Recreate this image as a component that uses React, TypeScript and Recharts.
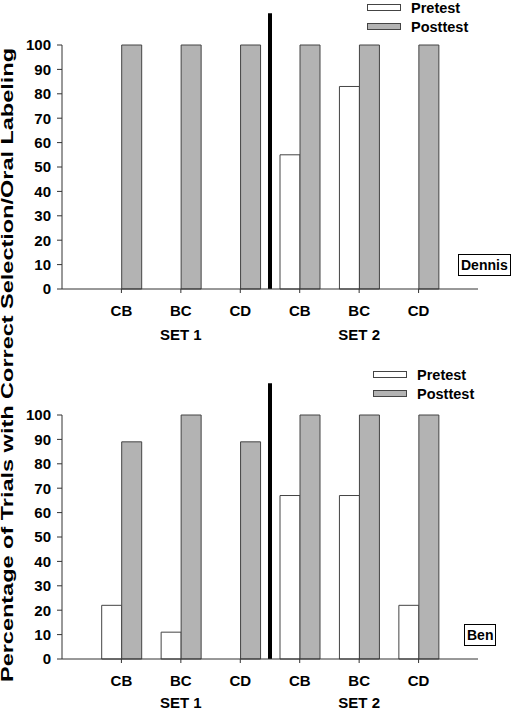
import { BarChart, Bar, XAxis, YAxis, Legend, ReferenceLine } from 'recharts';

const categoryKeys = ['S1-CB', 'S1-BC', 'S1-CD', 'S2-CB', 'S2-BC', 'S2-CD'];
const pairLabels = ['CB', 'BC', 'CD', 'CB', 'BC', 'CD'];
const setLabels = ['', 'SET 1', '', '', 'SET 2', ''];
const seriesNames = ['Pretest', 'Posttest'];
const yTicks = [0, 10, 20, 30, 40, 50, 60, 70, 80, 90, 100];

const dennisPretest = [0, 0, 0, 55, 83, 0];
const dennisPosttest = [100, 100, 100, 100, 100, 100];
const benPretest = [22, 11, 0, 67, 67, 22];
const benPosttest = [89, 100, 89, 100, 100, 100];

const FONT = '"Liberation Sans", Arial, Helvetica, sans-serif';
const AXIS = '#333';
const POST_FILL = '#b3b3b3';

function buildRows(pre: number[], post: number[]) {
  return categoryKeys.map((key, i) => ({ key, pretest: pre[i], posttest: post[i] }));
}

function CategoryTick(props: any) {
  const { x, y, index, setDy } = props;
  return (
    <g>
      <text x={x} y={y} dy={23} textAnchor="middle" fontFamily={FONT} fontWeight="bold" fontSize={15} fill="#000">
        {pairLabels[index]}
      </text>
      {setLabels[index] && (
        <text x={x} y={y} dy={setDy} textAnchor="middle" fontFamily={FONT} fontWeight="bold" fontSize={15} fill="#000">
          {setLabels[index]}
        </text>
      )}
    </g>
  );
}

function LegendBox() {
  // fixed order: Pretest above Posttest
  return (
    <div style={{ fontFamily: FONT, fontWeight: 'bold', fontSize: 14.5 }}>
      {seriesNames.map((name) => (
        <div key={name} style={{ display: 'flex', alignItems: 'center', height: 19 }}>
          <span
            style={{
              display: 'inline-block',
              width: 32,
              height: 5,
              background: name === 'Pretest' ? '#fff' : POST_FILL,
              border: '1px solid #444',
              marginRight: 10,
            }}
          />
          <span>{name}</span>
        </div>
      ))}
    </div>
  );
}

function Panel({ pre, post, name, top, marginTop, marginBottom, legendTop, legendLeft, nameBox, setDy }: any) {
  const rows = buildRows(pre, post);
  return (
    <div style={{ position: 'absolute', left: 0, top, width: 514, height: 350 }}>
      <BarChart
        width={514}
        height={350}
        data={rows}
        margin={{ top: marginTop, right: 36, left: 0, bottom: marginBottom }}
        barCategoryGap={10}
        barGap={0}
      >
        <XAxis
          dataKey="key"
          padding={{ left: 29.7, right: 29.7 }}
          height={50}
          tickSize={4}
          tickMargin={0}
          tick={<CategoryTick setDy={setDy} />}
          interval={0}
          stroke={AXIS}
          axisLine={{ stroke: AXIS }}
          tickLine={{ stroke: AXIS }}
        />
        <YAxis
          width={62}
          domain={[0, 100]}
          ticks={yTicks}
          interval={0}
          tickSize={5}
          tickMargin={6}
          stroke={AXIS}
          tick={{ fill: '#000', fontFamily: FONT, fontWeight: 'bold', fontSize: 15 }}
        />
        <Legend
          layout="vertical"
          align="center"
          verticalAlign="middle"
          wrapperStyle={{ top: legendTop, left: legendLeft, width: 130 }}
          content={<LegendBox />}
        />
        <Bar dataKey="pretest" name="Pretest" fill="#fff" stroke="#444" strokeWidth={1} isAnimationActive={false} />
        <Bar dataKey="posttest" name="Posttest" fill={POST_FILL} stroke="#444" strokeWidth={1} isAnimationActive={false} />
        <ReferenceLine
          segment={[{ x: 'S1-CD', y: 0 }, { x: 'S1-CD', y: 113 }]}
          position="end"
          ifOverflow="visible"
          stroke="#000"
          strokeWidth={4}
        />
      </BarChart>
      <div
        style={{
          position: 'absolute',
          left: nameBox.left,
          top: nameBox.top,
          border: '1px solid #000',
          background: '#fff',
          padding: '2px 2px',
          fontFamily: FONT,
          fontWeight: 'bold',
          fontSize: 14,
          lineHeight: '16px',
        }}
      >
        {name}
      </div>
    </div>
  );
}

export default function App() {
  return (
    <div style={{ position: 'absolute', left: 0, top: 0, width: 514, height: 710, background: '#fff', overflow: 'hidden' }}>
      <Panel
        pre={dennisPretest}
        post={dennisPosttest}
        name="Dennis"
        top={0}
        marginTop={45}
        marginBottom={11}
        legendTop={-2}
        legendLeft={367}
        nameBox={{ left: 458, top: 254 }}
        setDy={47}
      />
      <Panel
        pre={benPretest}
        post={benPosttest}
        name="Ben"
        top={360}
        marginTop={55}
        marginBottom={1}
        legendTop={5}
        legendLeft={373}
        nameBox={{ left: 464, top: 264 }}
        setDy={45}
      />
      <svg style={{ position: 'absolute', left: 0, top: 0 }} width={30} height={710}>
        <text
          transform="rotate(-90)"
          x={-365}
          y={13}
          textAnchor="middle"
          textLength={634}
          lengthAdjust="spacingAndGlyphs"
          fontFamily={FONT}
          fontWeight="bold"
          fontSize={16}
          fill="#000"
        >
          Percentage of Trials with Correct Selection/Oral Labeling
        </text>
      </svg>
    </div>
  );
}
